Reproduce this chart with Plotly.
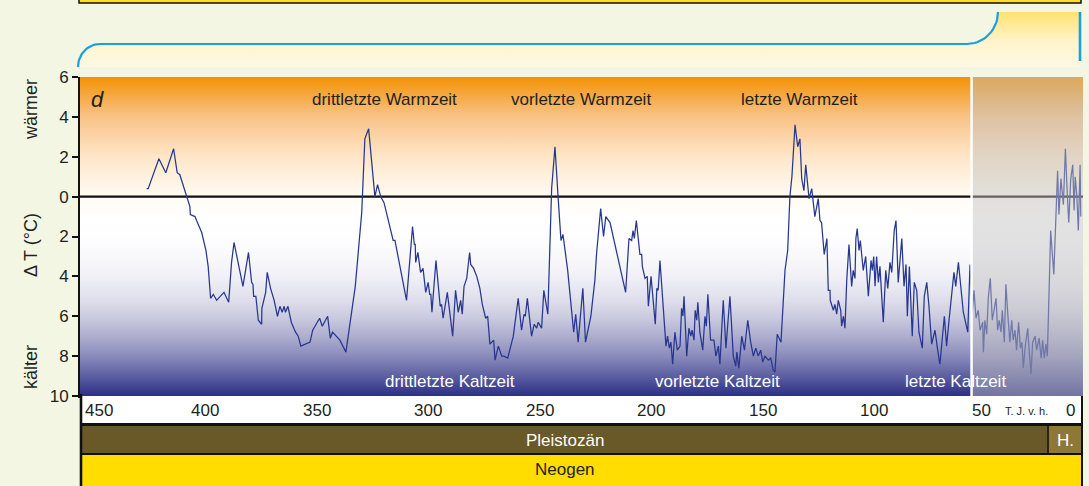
import numpy as np
import plotly.graph_objects as go

W, H = 1089, 486

# Temperature anomaly relative to today, thousands of years before present
age_kyr = [
    420.1, 419.4, 414.6, 411.5, 408.0, 406.4, 405.2, 402.5, 400.7, 400.5, 398.4, 397.7,
    395.4, 393.5, 392.5, 391.4, 390.2, 388.7, 385.4, 383.3, 382.0, 380.9, 376.9, 374.4,
    373.0, 372.4, 372.1, 371.1, 370.0, 368.5, 368.4, 366.7, 366.0, 364.5, 362.9, 361.4,
    360.3, 359.3, 358.4, 357.8, 356.7, 355.2, 353.3, 352.1, 350.9, 346.8, 345.6, 342.5,
    341.3, 338.9, 337.7, 336.7, 333.4, 330.7, 326.5, 323.6, 322.2, 320.5, 317.7, 316.5,
    315.1, 313.6, 311.7, 309.5, 308.7, 303.5, 300.8, 300.0, 299.6, 299.4, 298.4, 297.2,
    296.1, 294.9, 293.8, 293.1, 292.6, 292.1, 290.3, 288.4, 287.8, 287.1, 285.2, 282.8,
    281.5, 280.3, 279.2, 278.5, 277.7, 276.5, 275.2, 274.7, 273.4, 272.0, 270.6, 269.5,
    268.0, 267.1, 266.1, 264.4, 263.8, 262.3, 260.8, 259.8, 258.1, 255.6, 253.4, 251.9,
    250.8, 250.2, 249.3, 247.4, 246.2, 245.1, 244.4, 242.9, 241.9, 240.1, 238.4, 236.9,
    235.4, 234.2, 233.3, 231.2, 228.5, 227.6, 226.5, 224.4, 223.2, 220.8, 219.0, 218.2,
    216.4, 215.1, 214.1, 212.2, 205.2, 203.7, 202.5, 201.9, 201.3, 200.4, 198.8, 198.0,
    197.7, 196.5, 195.5, 195.0, 193.8, 191.9, 191.2, 190.6, 189.8, 187.1, 186.4, 185.6,
    184.9, 184.1, 183.1, 182.0, 180.8, 180.1, 179.5, 179.0, 177.8, 176.8, 176.0, 175.4,
    174.5, 174.0, 173.3, 172.8, 171.9, 170.6, 169.6, 169.0, 168.3, 167.1, 165.6, 164.7,
    163.6, 162.9, 161.4, 160.2, 158.4, 156.9, 155.8, 155.3, 154.4, 153.1, 151.9, 150.4,
    149.1, 147.9, 146.8, 145.7, 144.6, 143.7, 142.7, 141.2, 140.1, 139.0, 138.2, 137.2,
    135.5, 133.7, 132.5, 131.5, 130.6, 129.2, 128.0, 127.0, 126.2, 125.2, 124.4, 122.9,
    121.7, 120.3, 118.8, 118.0, 117.3, 116.1, 114.9, 114.3, 113.5, 113.4, 112.0, 111.3,
    110.5, 109.8, 108.7, 108.3, 107.5, 106.8, 106.0, 105.0, 103.8, 103.1, 102.3, 101.9,
    101.3, 100.5, 99.9, 99.0, 98.6, 97.5, 96.3, 95.1, 94.5, 93.9, 93.3, 92.6,
    91.8, 91.1, 90.3, 89.6, 88.5, 87.6, 86.6, 85.8, 84.7, 83.9, 82.9, 81.3,
    80.3, 79.4, 78.8, 77.9, 76.6, 75.7, 74.6, 73.6, 72.1, 71.2, 70.1, 69.1,
    67.9, 66.4, 65.2, 64.2, 62.2, 61.2, 60.1, 57.9, 57.1, 55.9, 53.7, 51.7,
    50.7, 49.7, 48.9, 48.0, 47.0, 46.2, 45.0, 44.7, 44.0, 43.2, 42.5, 41.6,
    40.7, 39.9, 39.0, 38.3, 37.6, 36.8, 36.2, 35.3, 34.6, 33.5, 32.8, 32.0,
    31.3, 30.5, 29.8, 28.9, 28.1, 27.4, 26.8, 25.9, 24.8, 24.1, 23.3, 22.6,
    21.5, 20.8, 19.7, 18.8, 18.1, 17.4, 16.6, 16.0, 14.5, 13.1, 11.4, 10.8,
    9.9, 8.8, 7.9, 7.0, 6.4, 5.5, 4.6, 4.0, 3.5, 2.8, 2.1, 1.3, 1.0,
]
delta_t = [
    0.4, 0.4, 1.9, 1.2, 2.4, 1.2, 1.1, 0.2, -0.5, -0.9, -1.0, -1.2,
    -1.8, -2.7, -3.5, -5.1, -4.9, -5.2, -4.8, -5.3, -3.3, -2.3, -4.5, -2.8,
    -4.3, -4.4, -5.0, -5.0, -6.2, -6.4, -5.6, -4.8, -3.8, -4.6, -5.2, -6.0,
    -5.5, -5.8, -5.5, -5.8, -5.5, -6.3, -6.8, -7.0, -7.5, -7.3, -6.7, -6.1,
    -6.5, -6.0, -7.1, -6.8, -7.2, -7.8, -4.5, -0.8, 2.9, 3.4, 0.0, 0.6,
    0.0, -0.3, -1.2, -2.2, -2.2, -5.2, -1.5, -2.4, -2.4, -3.3, -2.8, -3.8,
    -3.6, -4.8, -4.3, -4.9, -4.9, -5.8, -3.2, -5.5, -5.4, -6.1, -4.8, -7.0,
    -4.7, -5.8, -5.2, -5.9, -4.5, -4.1, -2.8, -3.4, -3.6, -4.0, -4.6, -5.4,
    -6.1, -6.0, -7.4, -7.2, -8.2, -7.5, -8.0, -8.0, -8.1, -7.0, -5.1, -6.7,
    -5.9, -6.0, -5.1, -7.0, -6.4, -6.6, -6.3, -6.6, -4.7, -5.9, 0.4, 2.5,
    -0.2, -2.2, -1.9, -3.7, -6.8, -5.9, -7.3, -4.6, -7.3, -6.0, -4.2, -2.8,
    -0.6, -2.0, -1.0, -1.3, -4.8, -2.1, -2.2, -1.7, -2.1, -1.2, -2.9, -2.9,
    -3.5, -4.1, -4.0, -5.5, -4.0, -6.4, -4.6, -4.7, -3.2, -7.5, -7.0, -7.6,
    -7.3, -8.4, -6.8, -7.7, -7.5, -5.6, -6.0, -5.0, -8.0, -6.6, -7.0, -6.7,
    -7.2, -5.7, -6.2, -5.3, -6.8, -7.7, -6.0, -6.5, -4.9, -7.2, -7.2, -8.0,
    -7.5, -8.4, -5.2, -7.6, -5.0, -8.0, -8.5, -7.8, -8.6, -7.0, -7.7, -6.2,
    -7.3, -8.0, -7.6, -8.0, -7.7, -8.3, -8.0, -8.2, -8.1, -8.7, -8.8, -6.9,
    -7.3, -3.7, -2.7, 0.0, 1.0, 3.6, 2.5, 2.9, 0.9, 0.3, 1.6, -0.1,
    0.4, -1.0, -0.1, -1.2, -1.3, -2.9, -2.1, -4.7, -4.7, -5.2, -5.7, -5.4,
    -5.9, -5.2, -5.7, -6.5, -6.0, -6.6, -4.2, -2.4, -4.5, -3.7, -4.1, -2.1,
    -1.6, -2.7, -2.2, -3.5, -3.7, -3.0, -5.0, -3.2, -3.7, -3.0, -4.5, -3.0,
    -4.3, -3.5, -5.1, -6.3, -3.7, -4.6, -3.3, -3.8, -1.7, -1.2, -4.3, -2.1,
    -4.5, -3.4, -6.0, -3.5, -7.0, -4.3, -4.7, -6.8, -7.6, -5.0, -4.3, -5.5,
    -7.4, -6.7, -7.7, -8.4, -6.0, -7.5, -6.2, -3.8, -4.5, -3.3, -5.8, -6.8,
    -3.4, -5.8, -4.7, -6.1, -5.7, -6.7, -6.3, -7.8, -6.2, -6.9, -5.1, -4.1,
    -6.2, -5.7, -5.1, -6.7, -6.2, -6.8, -5.7, -7.3, -4.4, -6.3, -7.3, -6.2,
    -7.2, -6.7, -7.7, -6.3, -7.6, -7.3, -8.6, -7.5, -6.6, -7.8, -8.9, -7.3,
    -7.0, -7.7, -7.1, -8.1, -7.2, -8.1, -7.4, -8.0, -1.7, -3.9, 1.3, -0.9,
    0.9, -0.4, 2.4, 0.0, -1.3, 0.9, 1.6, -0.7, 1.0, 0.1, -1.7, 1.6, -1.0,
]

# Axis scales
age_range = [450, 0]
t_range = [-10, 6]
y_tickvals = [6, 4, 2, 0, -2, -4, -6, -8, -10]
y_ticktext = [str(abs(v)) for v in y_tickvals]
x_tickvals = [450, 400, 350, 300, 250, 200, 150, 100, 50]
zoom_start = 50  # start of the highlighted most recent period

# Period names and where they are written (age, in kyr)
warm_names = ["drittletzte Warmzeit", "vorletzte Warmzeit", "letzte Warmzeit"]
warm_at = [313.6, 225.3, 127.4]
cold_names = ["drittletzte Kaltzeit", "vorletzte Kaltzeit", "letzte Kaltzeit"]
cold_at = [284.0, 164.2, 57.4]

FONT = "Liberation Sans Narrow, Liberation Sans, Arial, sans-serif"
TXT = "#231f20"
BG = "#f4f6e4"


def py(pix):
    """Pixel row -> paper coordinate."""
    return 1 - pix / H


X_DOM = [80 / W, 1083 / W]
Y_DOM = [py(396), py(77)]

fig = go.Figure()

# Plot background: warm orange above zero, cold blue below
fig.add_trace(go.Scatter(
    x=[age_range[0], age_range[1], age_range[1], age_range[0], age_range[0]],
    y=[t_range[0], t_range[0], t_range[1], t_range[1], t_range[0]],
    mode="none", fill="toself", hoverinfo="skip", showlegend=False,
    fillgradient=dict(
        type="vertical",
        colorscale=[
            [0.0, "rgb(44,48,134)"],
            [0.0625, "rgb(92,95,160)"],
            [0.125, "rgb(138,139,188)"],
            [0.1875, "rgb(174,174,207)"],
            [0.25, "rgb(204,204,225)"],
            [0.3125, "rgb(226,226,238)"],
            [0.375, "rgb(240,240,246)"],
            [0.4375, "rgb(249,249,252)"],
            [0.5, "rgb(254,254,255)"],
            [0.5625, "rgb(255,255,255)"],
            [0.625, "rgb(255,251,243)"],
            [0.75, "rgb(254,230,200)"],
            [0.875, "rgb(249,195,135)"],
            [0.9375, "rgb(246,170,70)"],
            [1.0, "rgb(243,146,4)"],
        ],
    ),
))

# Zero reference line
fig.add_trace(go.Scatter(
    x=age_range, y=[0, 0], mode="lines", hoverinfo="skip", showlegend=False,
    line=dict(color="#111111", width=2.3),
))

# Temperature curve
fig.add_trace(go.Scatter(
    x=age_kyr, y=delta_t, mode="lines", showlegend=False,
    line=dict(color="#27378f", width=1.25),
))

# ---- decorative frame drawn in pixel space ----
fig.add_trace(go.Scatter(
    x=[0, W], y=[0, H], mode="none", xaxis="x2", yaxis="y2",
    hoverinfo="skip", showlegend=False,
))

th = np.linspace(0, np.pi / 2, 20)
left_x = 100 - 22 * np.cos(th)
left_y = 67 - 23 * np.sin(th)
right_x = 967 + 31 * np.cos(th[::-1])
right_y = 12 + 32 * np.sin(th[::-1])
bracket_x = np.concatenate([left_x, right_x])
bracket_y = np.concatenate([left_y, right_y])

# pale band under the bracket, yellow at the top fading downwards
fig.add_trace(go.Scatter(
    x=np.concatenate([bracket_x, [1080, 1080, 78]]),
    y=np.concatenate([bracket_y, [12, 67, 67]]),
    xaxis="x2", yaxis="y2", mode="none", fill="toself",
    hoverinfo="skip", showlegend=False,
    fillgradient=dict(
        type="vertical",
        colorscale=[[0, "rgb(252,248,228)"], [0.45, "rgb(255,244,204)"],
                    [1, "rgb(255,226,112)"]],
    ),
))
fig.add_trace(go.Scatter(
    x=bracket_x, y=bracket_y, xaxis="x2", yaxis="y2", mode="lines",
    hoverinfo="skip", showlegend=False,
    line=dict(color="#18a0e0", width=2.2),
))
fig.add_trace(go.Scatter(
    x=[1080, 1080], y=[12, 61], xaxis="x2", yaxis="y2", mode="lines",
    hoverinfo="skip", showlegend=False,
    line=dict(color="#18a0e0", width=2.6),
))

shapes = [
    # highlighted recent period
    dict(type="rect", xref="x", yref="y domain", x0=zoom_start, x1=age_range[1],
         y0=0, y1=1, fillcolor="rgba(193,193,193,0.47)", line=dict(width=0),
         layer="above"),
    dict(type="line", xref="x", yref="y domain", x0=zoom_start, x1=zoom_start,
         y0=0, y1=1, line=dict(color="white", width=2.5), layer="above"),
    # bands below the chart
    dict(type="rect", xref="x2", yref="y2", x0=80, x1=1082, y0=396, y1=423,
         fillcolor="white", line=dict(width=0), layer="above"),
    dict(type="rect", xref="x2", yref="y2", x0=80, x1=1082, y0=423, y1=426,
         fillcolor="#111111", line=dict(width=0), layer="above"),
    dict(type="rect", xref="x2", yref="y2", x0=80, x1=1082, y0=426, y1=453,
         fillcolor="#695828", line=dict(width=0), layer="above"),
    dict(type="rect", xref="x2", yref="y2", x0=1047, x1=1049, y0=426, y1=453,
         fillcolor="#2a2414", line=dict(width=0), layer="above"),
    dict(type="rect", xref="x2", yref="y2", x0=1049, x1=1082, y0=426, y1=453,
         fillcolor="#8e7838", line=dict(width=0), layer="above"),
    dict(type="rect", xref="x2", yref="y2", x0=80, x1=1082, y0=453, y1=455,
         fillcolor="#111111", line=dict(width=0), layer="above"),
    dict(type="rect", xref="x2", yref="y2", x0=80, x1=1082, y0=455, y1=490,
         fillcolor="#ffdd00", line=dict(width=0), layer="above"),
    dict(type="line", xref="x2", yref="y2", x0=81, x1=81, y0=394, y1=490,
         line=dict(color="#111111", width=2.6), layer="above"),
    dict(type="line", xref="x2", yref="y2", x0=1082, x1=1082, y0=396, y1=490,
         line=dict(color="#111111", width=2), layer="above"),
    # bar above the chart
    dict(type="rect", xref="x2", yref="y2", x0=79, x1=1081, y0=-5, y1=3,
         fillcolor="#ffdf1c", line=dict(color="#111111", width=1.5), layer="above"),
]


def label(text, x, y, xref="paper", size=17, color=TXT, xanchor="center",
          **kw):
    return dict(text=text, x=x, y=y, xref=xref, yref="paper", showarrow=False,
                xanchor=xanchor, yanchor="middle",
                font=dict(size=size, color=color, family=kw.pop("family", FONT)),
                **kw)


ann = []
# side labels
for txt, yc in [("wärmer", 110), ("Δ T (°C)", 245), ("kälter", 367)]:
    ann.append(label(txt, 31 / W, py(yc), size=18, textangle=-90))
# panel letter
ann.append(label("<i>d</i>", 89 / W, py(100), size=22, xanchor="left",
                 family="Liberation Sans, Arial"))
for name, a in zip(warm_names, warm_at):
    ann.append(label(name, a, py(100), xref="x"))
for name, a in zip(cold_names, cold_at):
    ann.append(label(name, a, py(381), xref="x", color="white"))
# x tick labels (left aligned on their tick)
for v in x_tickvals:
    ann.append(label(str(v), v, py(410), xref="x", xanchor="left",
                     xshift=3 if v == age_range[0] else -2))
ann.append(label("0", age_range[1], py(410), xref="x", xanchor="right",
                 xshift=-6))
ann.append(label("T. J. v. h.", 25.3, py(411), xref="x", size=11))
# band names
ann.append(label("Pleistozän", 565 / W, py(440), color="white"))
ann.append(label("H.", 1065 / W, py(440), color="white"))
ann.append(label("Neogen", 565 / W, py(469)))

fig.update_layout(
    width=W, height=H,
    margin=dict(l=0, r=0, t=0, b=0, pad=0, autoexpand=False),
    paper_bgcolor=BG, plot_bgcolor="rgba(0,0,0,0)",
    font=dict(family=FONT, color=TXT),
    showlegend=False, hovermode=False,
    xaxis=dict(domain=X_DOM, range=age_range, showgrid=False, zeroline=False,
               showticklabels=False, ticks="", showline=True, automargin=False,
               linecolor="#111111", linewidth=2, fixedrange=True),
    yaxis=dict(domain=Y_DOM, range=t_range, tickvals=y_tickvals,
               ticktext=y_ticktext, ticks="outside", ticklen=6, tickwidth=2,
               tickcolor="#111111", showline=True, linecolor="#111111",
               linewidth=2, showgrid=False, zeroline=False, fixedrange=True,
               automargin=False, tickfont=dict(size=17, color=TXT)),
    xaxis2=dict(domain=[0, 1], range=[0, W], visible=False, anchor="y2",
                fixedrange=True, automargin=False),
    yaxis2=dict(domain=[0, 1], range=[H, 0], visible=False, anchor="x2",
                fixedrange=True, automargin=False),
    shapes=shapes, annotations=ann,
)

fig.write_html("out.html")
